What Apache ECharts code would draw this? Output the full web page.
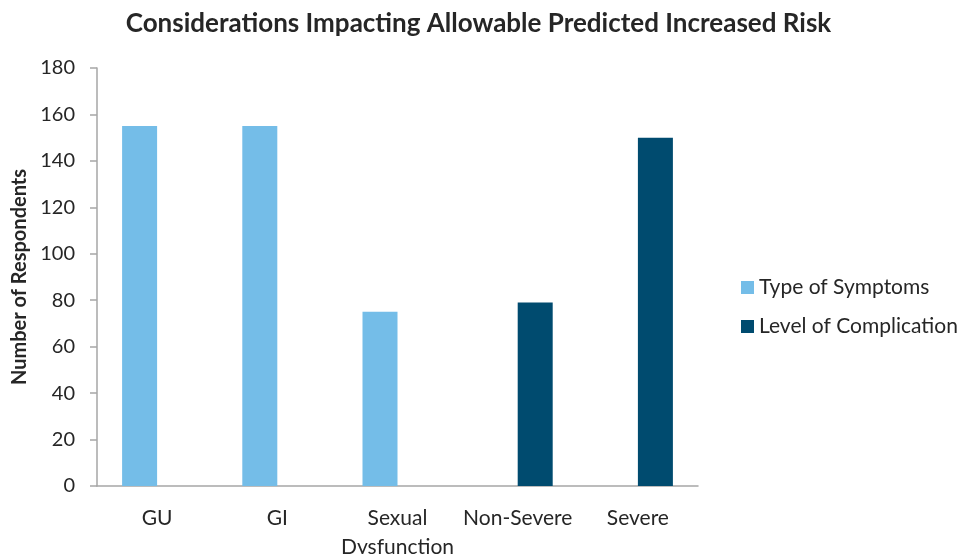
<!DOCTYPE html>
<html>
<head>
<meta charset="utf-8">
<script src="https://cdn.jsdelivr.net/npm/echarts@6/dist/echarts.min.js"></script>
<style>
  html, body { margin: 0; padding: 0; background: #fff; }
  #main { width: 957px; height: 554px; }
</style>
</head>
<body>
<div id="main"></div>
<script>
var categories = ['GU', 'GI', 'Sexual\nDysfunction', 'Non-Severe', 'Severe'];
var typeOfSymptoms = [155, 155, 75, '-', '-'];
var levelOfComplication = ['-', '-', '-', 79, 150];
var yTicks = { min: 0, max: 180, interval: 20 };

var font = 'Lato, "Open Sans", sans-serif';
var textColor = '#262626';
var axisColor = '#a6a6a6';

var chart = echarts.init(document.getElementById('main'));
chart.setOption({
    animation: false,
    title: {
        text: 'Considerations Impacting Allowable Predicted Increased Risk',
        left: 'center',
        top: 6,
        textStyle: { fontFamily: font, fontSize: 26, fontWeight: 'bold', color: textColor }
    },
    legend: {
        orient: 'vertical',
        left: 736,
        top: 272,
        itemWidth: 13,
        itemHeight: 13,
        itemGap: 18,
        icon: 'rect',
        textStyle: { fontFamily: font, fontSize: 21, color: textColor },
        data: ['Type of Symptoms', 'Level of Complication']
    },
    grid: { left: 97, right: 259, top: 68, bottom: 68, outerBoundsMode: 'none', containLabel: false },
    xAxis: {
        type: 'category',
        data: categories,
        axisLine: { lineStyle: { color: axisColor, width: 1.5 } },
        axisTick: { length: 7, lineStyle: { color: axisColor, width: 1.5 } },
        axisLabel: { fontFamily: font, fontSize: 21, color: textColor, margin: 18, lineHeight: 29, interval: 0 }
    },
    yAxis: {
        type: 'value',
        min: yTicks.min,
        max: yTicks.max,
        interval: yTicks.interval,
        name: 'Number of Respondents',
        nameLocation: 'middle',
        nameGap: 67,
        nameTextStyle: { fontFamily: font, fontSize: 20, fontWeight: 'bold', color: textColor },
        axisLine: { show: true, lineStyle: { color: axisColor, width: 1.5 } },
        axisTick: { show: true, length: 7, lineStyle: { color: axisColor, width: 1.5 } },
        axisLabel: { fontFamily: font, fontSize: 20, color: textColor, margin: 22 },
        splitLine: { show: false }
    },
    series: [
        {
            name: 'Type of Symptoms',
            type: 'bar',
            data: typeOfSymptoms,
            barWidth: 35,
            barGap: '0%',
            itemStyle: { color: '#74bde8' }
        },
        {
            name: 'Level of Complication',
            type: 'bar',
            data: levelOfComplication,
            barWidth: 35,
            itemStyle: { color: '#004b6f' }
        }
    ]
});
</script>
</body>
</html>
